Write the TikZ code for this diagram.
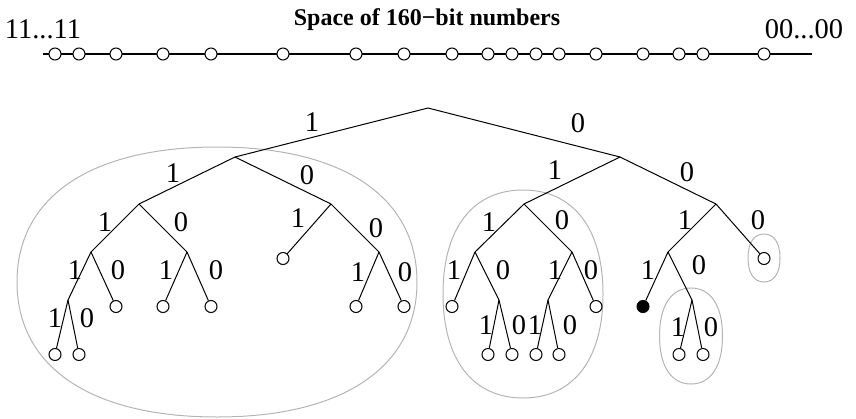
\documentclass[tikz,border=0pt]{standalone}
\usepackage{fontspec}
\setmainfont{Liberation Serif}
\definecolor{hull}{RGB}{180,180,180}

% rounded hull round a group of leaves: centre x, centre y, half width, half height
\newcommand{\hullblob}[4]{%
  \draw[hull line] ({#1},{#2-#4})
    .. controls ({#1+0.63*#3},{#2-#4}) and ({#1+#3},{#2-0.63*#4}) .. ({#1+#3},{#2})
    .. controls ({#1+#3},{#2+0.63*#4}) and ({#1+0.63*#3},{#2+#4}) .. ({#1},{#2+#4})
    .. controls ({#1-0.63*#3},{#2+#4}) and ({#1-#3},{#2+0.63*#4}) .. ({#1-#3},{#2})
    .. controls ({#1-#3},{#2-0.63*#4}) and ({#1-0.63*#3},{#2-#4}) .. cycle;}

\begin{document}
\begin{tikzpicture}[
  x=1pt, y=-1pt,
  edge/.style={line width=1pt},
  keyline/.style={line width=2pt},
  hull line/.style={draw=hull, line width=1pt},
  dot/.style={circle, draw, fill=white, line width=1pt, inner sep=0pt, minimum size=12pt},
  leaf/.style={dot, anchor=north},
  hit/.style={leaf, fill=black},
  bit/.style={inner sep=0pt, font=\fontsize{28.5}{32}\selectfont},
  ends/.style={bit, anchor=base},
  title/.style={inner sep=0pt, anchor=base, font=\fontsize{24}{28}\selectfont\bfseries},
]
\useasboundingbox (0,0) rectangle (856,418);

% key space
\node[title] (head) at (427,25) {Space of 160−bit numbers};
\node[ends] (hi) at (43,38) {11...11};
\node[ends] (lo) at (804,38) {00...00};
\coordinate (ks) at (43,54);
\coordinate (ke) at (812,54);
\draw[keyline] (ks) -- (ke);
\foreach \x [count=\i] in {55,79,116,163,211,283,356,404,452,488,512,536,559,596,643,679,703,764}
  \node[dot] (k\i) at (\x,54) {};

% subtrees
\hullblob{217}{282}{200}{135}
\hullblob{523}{294}{80}{104}
\hullblob{691}{336}{31.5}{48}
\hullblob{764}{258}{16}{24}

% tree
\coordinate (b) at (428,108);
\coordinate (b1) at (235,157);
\coordinate (b0) at (620,157);
\coordinate (b11) at (139,204);
\coordinate (b10) at (331,204);
\coordinate (b01) at (524,204);
\coordinate (b00) at (716,204);
\coordinate (b111) at (91,252);
\coordinate (b110) at (187,252);
\node[leaf] (b101) at (283,252) {};
\coordinate (b100) at (379,252);
\coordinate (b011) at (475,252);
\coordinate (b010) at (572,252);
\coordinate (b001) at (668,252);
\node[leaf] (b000) at (764,252) {};
\coordinate (b1111) at (68,300);
\node[leaf] (b1110) at (116,300) {};
\node[leaf] (b1101) at (163,300) {};
\node[leaf] (b1100) at (211,300) {};
\node[leaf] (b1001) at (356,300) {};
\node[leaf] (b1000) at (404,300) {};
\node[leaf] (b0111) at (452,300) {};
\coordinate (b0110) at (499,300);
\coordinate (b0101) at (548,300);
\node[leaf] (b0100) at (596,300) {};
\node[hit] (b0011) at (643,300) {};
\coordinate (b0010) at (692,300);
\node[leaf] (b11111) at (55,348) {};
\node[leaf] (b11110) at (79,348) {};
\node[leaf] (b01101) at (488,348) {};
\node[leaf] (b01100) at (512,348) {};
\node[leaf] (b01011) at (536,348) {};
\node[leaf] (b01010) at (559,348) {};
\node[leaf] (b00101) at (679,348) {};
\node[leaf] (b00100) at (703,348) {};

\foreach \p/\c in {b/b1, b/b0, b1/b11, b1/b10, b0/b01, b0/b00,
    b11/b111, b11/b110, b10/b101, b10/b100, b01/b011, b01/b010, b00/b001, b00/b000,
    b111/b1111, b111/b1110, b110/b1101, b110/b1100, b100/b1001, b100/b1000,
    b011/b0111, b011/b0110, b010/b0101, b010/b0100, b001/b0011, b001/b0010,
    b1111/b11111, b1111/b11110, b0110/b01101, b0110/b01100,
    b0101/b01011, b0101/b01010, b0010/b00101, b0010/b00100}
  \draw[edge] (\p) -- (\c);

% branch bits
\foreach \x/\y/\t [count=\i] in {312/122/1, 578/123/0,
    173/173/1, 307/175/0, 555/170/1, 687/172/0,
    105/222/1, 181/222/0, 298/218/1, 376/228/0, 489/222/1, 562/220/0, 685/220/1, 758/220/0,
    75/270/1, 118/270/0, 166/270/1, 216/270/0, 358/272/1, 405/272/0,
    454/270/1, 503/270/0, 555/270/1, 591/270/0, 648/270/1, 699/265/0,
    55/318/1, 87/318/0, 486/325/1, 519/325/0, 535/325/1, 570/325/0, 678/327/1, 711/327/0}
  \node[bit] (t\i) at (\x,\y) {\t};

\end{tikzpicture}
\end{document}
